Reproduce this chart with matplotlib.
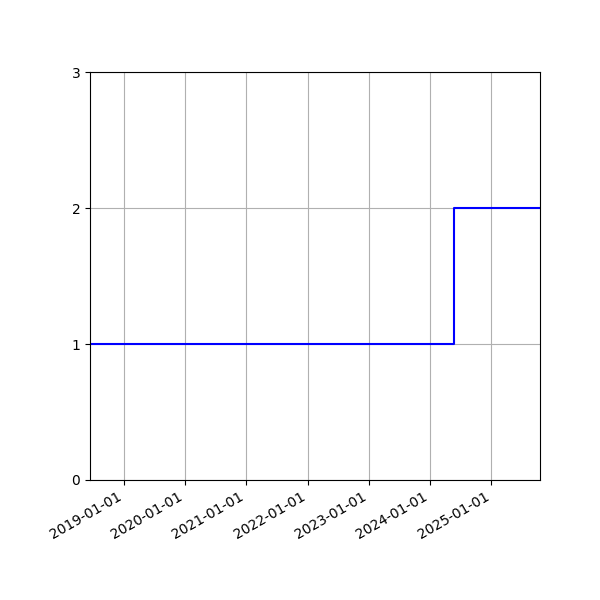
import matplotlib
matplotlib.use('Agg')
from matplotlib import pyplot as plt
import matplotlib.dates as mdates
import numpy as np

dates = np.array(['2018-06-14', '2024-05-25', '2025-10-18'], dtype='datetime64[D]')
values = [1, 2, 2]

fig, ax = plt.subplots(figsize=(6, 6), dpi=100)
ax.step(dates, values, where='post', color='b')
ax.set_xlim(dates[0], dates[-1])
ax.set_ylim(0, 3)
ax.set_yticks([0, 1, 2, 3])
ax.xaxis.set_major_locator(mdates.YearLocator())
ax.xaxis.set_major_formatter(mdates.DateFormatter('%Y-%m-%d'))
ax.grid(True)
fig.autofmt_xdate()
fig.subplots_adjust(left=0.15, right=0.9, top=0.88, bottom=0.2)
fig.savefig('out.png')
